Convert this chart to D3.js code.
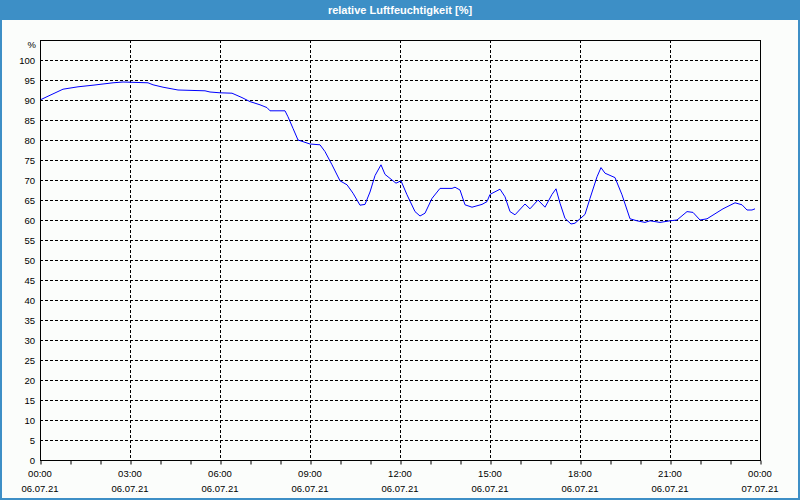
<!DOCTYPE html>
<html><head><meta charset="utf-8">
<script src="https://cdn.jsdelivr.net/npm/d3@7"></script>
<style>
html,body{margin:0;padding:0;background:#fff;}
svg{display:block;}
text{font-family:"Liberation Sans",Arial,sans-serif;}
</style></head>
<body>
<svg id="c" width="800" height="500"></svg>
<script>
const title = "relative Luftfeuchtigkeit [%]";
const unitLabel = "%";
const times = ["00:00","00:22","00:46","01:16","01:46","02:26","02:46","03:36","03:46","04:06","04:36","05:30","05:40","06:00","06:24","06:44","07:00","07:20","07:34","07:40","08:10","08:16","08:26","08:36","09:00","09:20","09:30","09:44","10:00","10:14","10:26","10:40","10:50","11:00","11:10","11:22","11:30","11:44","11:52","12:02","12:14","12:30","12:40","12:50","13:04","13:20","13:44","13:50","14:00","14:10","14:24","14:44","14:54","15:00","15:20","15:30","15:40","15:50","16:10","16:20","16:36","16:50","17:04","17:12","17:20","17:30","17:42","17:50","18:10","18:20","18:34","18:42","18:50","19:10","19:24","19:40","19:54","20:10","20:20","20:40","21:00","21:14","21:34","21:46","22:00","22:14","22:46","23:10","23:24","23:34","23:44","23:50"];
const humidity = [90.0,91.3,92.7,93.3,93.7,94.3,94.5,94.3,93.8,93.2,92.5,92.3,92.0,91.8,91.7,90.6,89.6,88.8,88.1,87.3,87.3,85.8,82.9,80.0,79.0,78.8,77.1,73.8,69.8,68.8,66.7,63.7,63.9,67.0,71.1,73.8,71.4,70.0,69.2,69.8,66.3,62.1,61.0,61.7,65.4,67.9,67.9,68.2,67.5,63.8,63.2,63.9,64.6,66.4,67.7,65.8,62.1,61.3,64.0,62.8,65.0,63.2,66.4,67.8,64.2,60.4,59.0,59.2,61.4,65.4,70.8,73.1,71.7,70.6,66.3,60.3,59.8,59.4,59.8,59.4,59.8,60.0,62.1,61.9,60.0,60.3,62.8,64.3,63.8,62.5,62.5,62.8];
const yTicks = [0,5,10,15,20,25,30,35,40,45,50,55,60,65,70,75,80,85,90,95,100];
const dayStart = "2021-07-06T00:00";
const dayEnd = "2021-07-07T00:00";

const svg = d3.select("#c");
const W = 800, H = 500;
const frameCol = "#3d8fc6";
const L = 40, R = 760, T = 40, B = 460;

// background + frame
svg.append("rect").attr("x",0).attr("y",0).attr("width",W).attr("height",H).attr("fill","#fbfdfb");
svg.append("rect").attr("x",0).attr("y",0).attr("width",W).attr("height",20).attr("fill",frameCol);
svg.append("rect").attr("x",1).attr("y",1).attr("width",W-2).attr("height",H-2)
  .attr("fill","none").attr("stroke",frameCol).attr("stroke-width",2);
svg.append("text").attr("x",W/2).attr("y",14).attr("text-anchor","middle")
  .attr("fill","#fff").attr("font-weight","bold").attr("font-size","11px").text(title);

const parse = d3.timeParse("%Y-%m-%dT%H:%M");
const x = d3.scaleTime().domain([parse(dayStart), parse(dayEnd)]).range([L, R]);
const y = d3.scaleLinear().domain([0,105]).range([B, T]);
const data = times.map((t,i)=>({t: parse("2021-07-06T"+t), v: humidity[i]}));

// horizontal grid
svg.append("g").selectAll("line").data(yTicks.filter(d=>d>0)).join("line")
  .attr("x1",L).attr("x2",R).attr("y1",d=>Math.round(y(d))+0.5).attr("y2",d=>Math.round(y(d))+0.5)
  .attr("stroke","#000").attr("stroke-dasharray","3,2").attr("stroke-width",1);
// vertical grid
const major = x.ticks(d3.timeHour.every(3));
svg.append("g").selectAll("line").data(major.slice(1,-1)).join("line")
  .attr("y1",T).attr("y2",B).attr("x1",d=>Math.round(x(d))+0.5).attr("x2",d=>Math.round(x(d))+0.5)
  .attr("stroke","#000").attr("stroke-dasharray","3,2").attr("stroke-width",1);

// minor ticks (hourly)
const minorAxis = d3.axisBottom(x).ticks(d3.timeHour.every(1)).tickSize(4).tickFormat("");
const gm = svg.append("g").attr("transform",`translate(0.5,${B+0.5})`).call(minorAxis);
gm.select(".domain").remove();
gm.selectAll("line").attr("stroke","#000");

// x labels
const fTime = d3.timeFormat("%H:%M"), fDate = d3.timeFormat("%d.%m.%y");
const xl = svg.append("g").attr("font-size","9.5px").attr("fill","#000").attr("text-anchor","middle");
xl.selectAll("text.t").data(major).join("text").attr("class","t")
  .attr("x",d=>x(d)).attr("y",477).text(d=>fTime(d));
xl.selectAll("text.d").data(major).join("text").attr("class","d")
  .attr("x",d=>x(d)).attr("y",492).text(d=>fDate(d));

// y labels
const yAxis = d3.axisLeft(y).tickValues(yTicks).tickSize(0).tickPadding(5);
const gy = svg.append("g").attr("transform",`translate(${L},0)`).call(yAxis);
gy.select(".domain").remove();
gy.selectAll("text").attr("font-size","9.5px").attr("fill","#000")
  .attr("font-family","'Liberation Sans',Arial,sans-serif");
svg.append("text").attr("x",36).attr("y",48).attr("text-anchor","end").attr("font-size","9.5px").text(unitLabel);

// line
const line = d3.line().x(d=>x(d.t)).y(d=>y(d.v));
svg.append("path").datum(data).attr("d",line).attr("fill","none").attr("stroke","#0000ff").attr("stroke-width",1);

// plot frame
svg.append("rect").attr("x",L+0.5).attr("y",T+0.5).attr("width",R-L).attr("height",B-T)
  .attr("fill","none").attr("stroke","#000").attr("stroke-width",1);
</script>
</body></html>
